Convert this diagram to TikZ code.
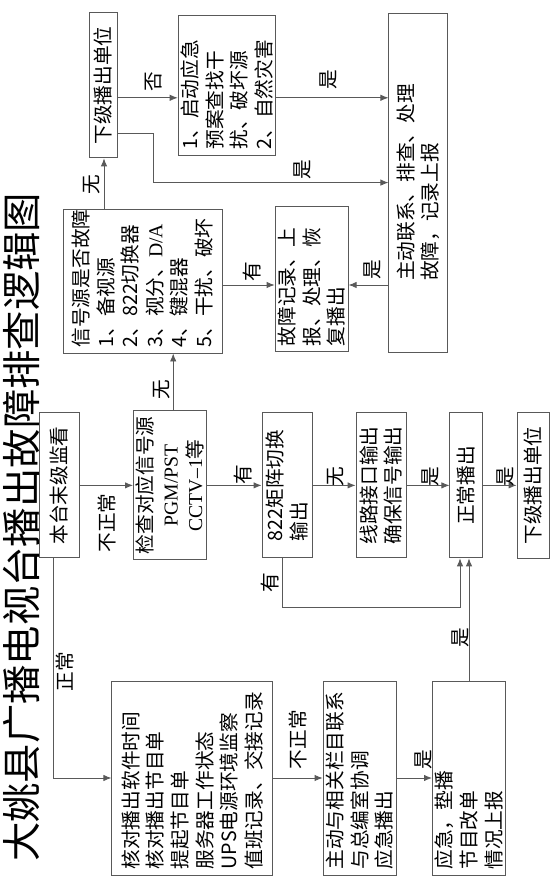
\documentclass[tikz,border=0pt]{standalone}
\usepackage{fontspec}
\setmainfont{Noto Sans CJK SC}
\newfontfamily\westserif{Liberation Serif}
\usetikzlibrary{arrows.meta}

\newcommand{\bodysize}{\fontsize{14}{17.5}\selectfont}
\newcommand{\titlesize}{\fontsize{28}{32}\selectfont}

\begin{document}
\begin{tikzpicture}[>={Latex[length=2mm,width=1.6mm]}, line width=0.6pt,
    box/.style={draw=black!65, rectangle, rotate=90, inner xsep=4pt, inner ysep=2pt, align=left, font=\bodysize},
    lbl/.style={rotate=90, inner sep=1pt, font=\bodysize},
    wire/.style={draw=black!65, ->}
  ]
  \useasboundingbox (0,0) rectangle (13.95,22.375);

  \node[rotate=90, font=\titlesize] (title) at (0.55,9.19) {大姚县广播电视台播出故障排查逻辑图};

  % 主干：监看 -> 检查 -> 切换 -> 线路 -> 播出
  \node[box, align=center, minimum width=3.625cm, minimum height=1.0cm] (monitor) at (1.475,10.24) {本台末级监看};
  \node[box, align=center, minimum width=3.625cm, minimum height=1.8cm] (check) at (4.25,10.24) {检查对应信号源\\{\westserif PGM/PST}\\{\westserif CCTV–1}等};
  \node[box, minimum width=3.625cm, minimum height=1.25cm] (matrix) at (7.175,10.24) {822矩阵切换\\输出};
  \node[box, minimum width=3.625cm, minimum height=1.25cm] (line) at (9.525,10.24) {线路接口输出\\确保信号输出};
  \node[box, align=center, minimum width=3.625cm, minimum height=0.825cm] (normal) at (11.66,10.24) {正常播出};
  \node[box, align=center, minimum width=3.65cm, minimum height=0.8cm] (down2) at (13.325,10.24) {下级播出单位};

  % 信号源一支
  \node[box, text width=3.32cm, minimum height=3.975cm] (source) at (3.5625,15.35) {信号源是否故障\\1、备视源\\2、822切换器\\3、视分、{\westserif D/A}\\4、键混器\\5、干扰、破坏};
  \node[box, text width=3.345cm, minimum height=1.725cm] (record) at (7.79,15.39) {故障记录、上\\报、处理、恢\\复播出};
  \node[box, minimum width=8.475cm, minimum height=1.475cm] (contact) at (10.46,17.81) {主动联系、排查、处理\\故障，记录上报};
  \node[box, align=center, minimum width=3.625cm, minimum height=0.7cm] (down1) at (2.575,20.24) {下级播出单位};
  \node[box, text width=3.2cm, minimum height=2.25cm] (emerg) at (5.675,20.24) {1、启动应急\\预案查找干\\扰、破坏源\\2、自然灾害};

  % 正常一支
  \node[box, text width=4.57cm, minimum height=4.025cm] (verify) at (4.81,2.925) {核对播出软件时间\\核对播出节目单\\提起节目单\\服务器工作状态\\UPS电源环境监察\\值班记录、交接记录};
  \node[box, text width=4.57cm, minimum height=1.825cm] (coord) at (8.99,2.925) {主动与相关栏目联系\\与总编室协调\\应急播出};
  \node[box, text width=4.57cm, minimum height=1.55cm] (backup) at (11.725,2.925) {应急，垫播\\节目改单\\情况上报};

  \coordinate (rowA) at (0,19.93);
  \coordinate (rowB) at (0,19.05);
  \coordinate (rowC) at (0,15.25);
  \coordinate (colA) at (2.6,0);
  \coordinate (colB) at (4.33,0);
  \coordinate (colC) at (1.33,0);
  \coordinate (knee) at (3.83,17.81);
  \coordinate (loop) at (11.5,7.2);

  \draw[wire] (monitor.south) -- (check.north);
  \draw[wire] (check.south) -- (matrix.north);
  \draw[wire] (matrix.south) -- (line.north);
  \draw[wire] (line.south) -- (normal.north);
  \draw[wire] (normal.south) -- (down2.north);

  \draw[wire] (check.east -| colB) -- (source.west -| colB);
  \draw[wire] (source.east -| colA) -- (down1.west -| colA);
  \draw[wire] (source.south |- rowC) -- (record.north |- rowC);
  \draw[wire] (contact.north |- rowC) -- (record.south |- rowC);
  \draw[wire] (down1.south |- rowA) -- (emerg.north |- rowA);
  \draw[wire] (emerg.south |- rowA) -- (contact.north |- rowA);
  \draw[wire] (down1.south |- rowB) -| (knee) -- (contact.north |- knee);

  \draw[wire] (monitor.west -| colC) |- (verify.north);
  \draw[wire] (verify.south) -- (coord.north);
  \draw[wire] (coord.south) -- (backup.north);
  \draw[wire] (backup.east) -- (backup.east |- normal.west);
  \draw[wire] ([xshift=-1.2mm]matrix.west) |- (loop) -- (loop |- normal.west);

  % 连线上的字
  \node[lbl] (tNo) at (3.83,20.33) {否};
  \node[lbl] (tYes1) at (7.55,18.13) {是};
  \node[lbl] (tYes2) at (8.2,20.38) {是};
  \node[lbl] (tYes3) at (9.3,15.63) {是};
  \node[lbl] (tNone1) at (2.3,17.75) {无};
  \node[lbl] (tHave1) at (6.3,15.58) {有};
  \node[lbl] (tAbn1) at (2.68,9.3) {不正常};
  \node[lbl] (tNone2) at (4.05,12.63) {无};
  \node[lbl] (tHave2) at (6.08,10.5) {有};
  \node[lbl] (tNone3) at (8.38,10.45) {无};
  \node[lbl] (tYes4) at (10.75,10.45) {是};
  \node[lbl] (tYes5) at (12.63,10.45) {是};
  \node[lbl] (tHave3) at (6.75,7.8) {有};
  \node[lbl] (tYes6) at (11.5,6.43) {是};
  \node[lbl] (tOk) at (1.63,5.58) {正常};
  \node[lbl] (tAbn2) at (7.45,3.88) {不正常};
  \node[lbl] (tYes7) at (10.58,3.38) {是};
\end{tikzpicture}
\end{document}
